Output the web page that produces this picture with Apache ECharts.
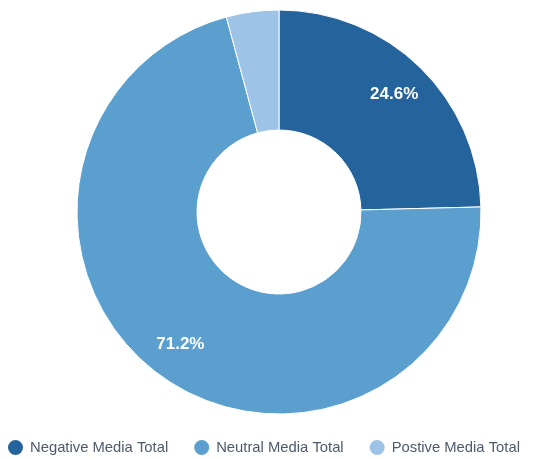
<!DOCTYPE html>
<html>
<head>
<meta charset="utf-8">
<script src="https://cdn.jsdelivr.net/npm/echarts@6/dist/echarts.min.js"></script>
<style>
  html, body { margin: 0; padding: 0; background: #fff; }
  #chart { width: 553px; height: 459px; }
</style>
</head>
<body>
<div id="chart"></div>
<script>
const categories = ['Negative Media Total', 'Neutral Media Total', 'Postive Media Total']
const shares = [24.6, 71.2, 4.2]
const colors = ['#25639d', '#5b9fcf', '#9dc3e6']

const center = [279, 212]
const pieData = categories.map((name, i) => ({ name, value: shares[i] }))

const chart = echarts.init(document.getElementById('chart'))

chart.setOption({
  animation: false,
  color: colors,
  legend: {
    left: 1,
    top: 433,
    icon: 'circle',
    itemWidth: 17,
    itemHeight: 17,
    itemGap: 24,
    textStyle: { color: '#4f5a6e', fontSize: 14.8, fontFamily: 'Liberation Sans, Arial, sans-serif', padding: [0, 0, 0, 1] },
    data: categories
  },
  series: [
    {
      type: 'pie',
      center: center,
      radius: [82, 202],
      startAngle: 90,
      clockwise: true,
      itemStyle: { borderColor: '#fff', borderWidth: 1 },
      label: { show: false },
      labelLine: { show: false },
      emphasis: { disabled: true },
      data: pieData
    },
    {
      // label ring only, to place the percentages a bit further out
      type: 'pie',
      center: center,
      radius: [122, 202],
      startAngle: 90,
      silent: true,
      legendHoverLink: false,
      itemStyle: { color: 'transparent' },
      label: {
        show: true,
        position: 'inside',
        color: '#fff',
        fontSize: 17,
        fontWeight: 'bold',
        fontFamily: 'Liberation Sans, Arial, sans-serif',
        formatter: p => p.value > 10 ? p.value.toFixed(1) + '%' : ''
      },
      labelLine: { show: false },
      emphasis: { disabled: true },
      data: categories.map((name, i) => ({ name: name + ' ', value: shares[i] }))
    }
  ]
})
</script>
</body>
</html>
